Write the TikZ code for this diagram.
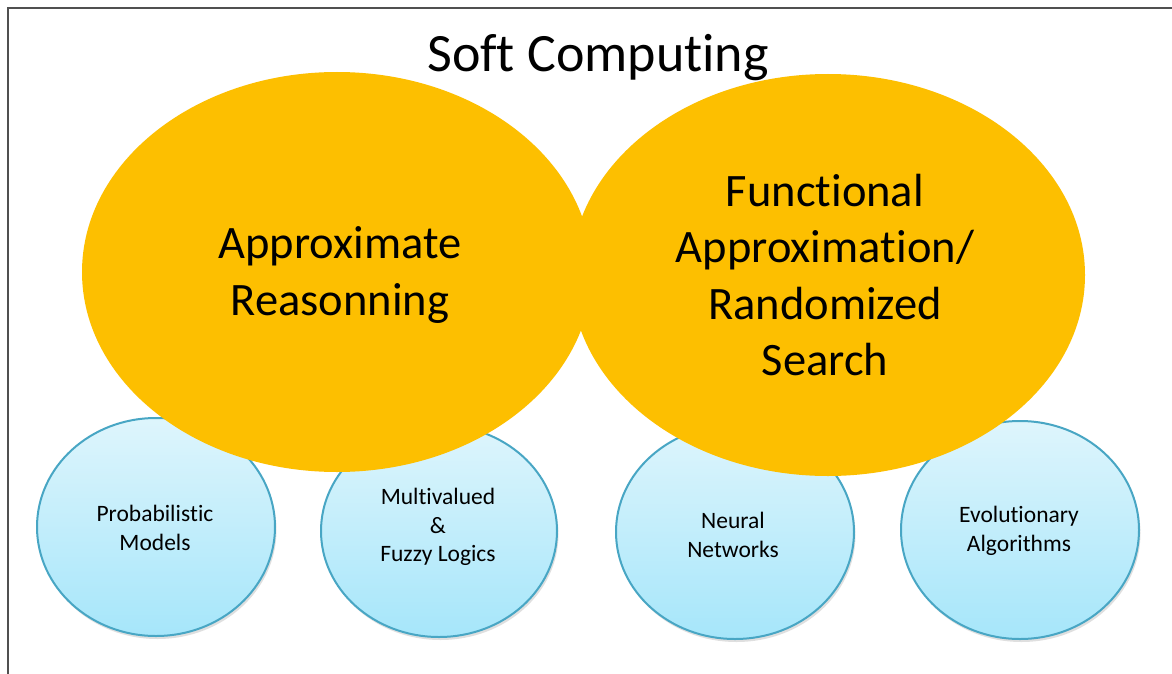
\documentclass[tikz,border=0pt]{standalone}
\usepackage{fontspec}
\setmainfont{Carlito}[Ligatures=NoCommon]
\usetikzlibrary{shadows}
\newcommand{\nolig}{\kern0pt }
\definecolor{gold}{RGB}{253,191,0}
\definecolor{bluetop}{RGB}{222,245,252}
\definecolor{bluebot}{RGB}{166,230,250}
\definecolor{blueline}{RGB}{72,166,196}
\definecolor{framec}{RGB}{80,80,80}
\tikzset{
  bigell/.style={fill=gold, draw=none},
  smallell/.style={top color=bluetop, bottom color=bluebot, draw=blueline, line width=2pt,
    drop shadow={opacity=0.25, shadow xshift=1.5pt, shadow yshift=-3pt}},
  bigtxt/.style={font=\fontsize{46.5}{56.5}\selectfont, align=center, text=black},
  smalltxt/.style={font=\fontsize{23.5}{28.5}\selectfont, align=center, text=black},
}
\begin{document}
\begin{tikzpicture}[x=1pt,y=-1pt]
\useasboundingbox (0,0) rectangle (1172,674);
\fill[white] (0,0) rectangle (1172,674);
\draw[framec, line width=2.5pt] (8,674) coordinate (fb) -- (8,8) coordinate (fc) -- (1172,8) coordinate (fr);
% small ellipses (behind)
\path[smallell] (156,527) ellipse [x radius=119, y radius=109];
\path[smallell] (439,531) ellipse [x radius=118, y radius=106];
\path[smallell] (735,532) ellipse [x radius=119, y radius=107];
\path[smallell] (1020,530) ellipse [x radius=119, y radius=109];
% big ellipses
\path[bigell] (337,272) ellipse [x radius=255, y radius=200];
\path[bigell] (828,275) ellipse [x radius=257, y radius=201];
% texts
\node[font=\fontsize{54}{64}\selectfont] (title) at (598,58) {Sof\nolig t Compu\nolig ting};
\node[bigtxt] (ar) at (340,275) {Approximate\\Reasonning};
\node[bigtxt] (fa) at (825,275) {Func\nolig tional\\Approxima\nolig tion/\\Randomized\\Search};
\node[smalltxt] (pm) at (155,528) {Probabilis\nolig tic\\Models};
\node[smalltxt] (mf) at (438,527) {Multivalued\\\&\\Fuzzy Logics};
\node[smalltxt] (nn) at (733,535) {Neural\\Networks};
\node[smalltxt] (ea) at (1019,531) {Evolu\nolig tionary\\Algorithms};
\end{tikzpicture}
\end{document}
